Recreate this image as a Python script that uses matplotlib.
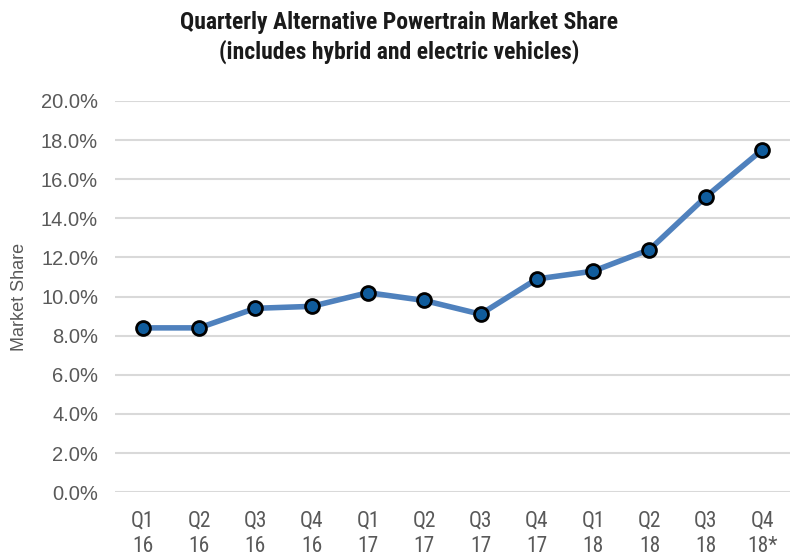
import matplotlib.pyplot as plt
from matplotlib.ticker import FuncFormatter

# Quarterly alternative powertrain share, in percent
quarters = ["Q1\n16", "Q2\n16", "Q3\n16", "Q4\n16",
            "Q1\n17", "Q2\n17", "Q3\n17", "Q4\n17",
            "Q1\n18", "Q2\n18", "Q3\n18", "Q4\n18*"]
share = [8.4, 8.4, 9.4, 9.5, 10.2, 9.8, 9.1, 10.9, 11.3, 12.4, 15.1, 17.5]
y_ticks = [0, 2, 4, 6, 8, 10, 12, 14, 16, 18, 20]

cond = ['Roboto Condensed', 'DejaVu Sans']
plain = ['Liberation Sans', 'DejaVu Sans']
plt.rcParams['font.family'] = cond

fig = plt.figure(figsize=(7.91, 5.58), dpi=100)
ax = fig.add_axes([0.145, 0.118, 0.854, 0.701])

x = list(range(len(share)))
ax.plot(x, share, color='#4F81BD', linewidth=4, zorder=3,
        marker='o', markersize=10, markerfacecolor='#105C9C',
        markeredgecolor='black', markeredgewidth=2)

ax.set_xlim(-0.5, len(share) - 0.5)
ax.set_ylim(0, 20)
ax.set_yticks(y_ticks)
ax.yaxis.set_major_formatter(FuncFormatter(lambda v, p: f"{v:.1f}%"))
ax.set_xticks(x)
ax.set_xticklabels(quarters)

ax.grid(axis='y', color='#D9D9D9', linewidth=1.5)
ax.set_axisbelow(True)
for s in ax.spines.values():
    s.set_visible(False)
ax.tick_params(length=0, labelcolor='#595959')
ax.tick_params(axis='y', pad=12, labelsize=14.5)
ax.tick_params(axis='x', pad=13, labelsize=15.5)
for t in ax.get_yticklabels():
    t.set_family(plain)
for t in ax.get_xticklabels():
    t.set_linespacing(1.3)

ax.set_ylabel("Market Share", fontsize=13, color='#595959', labelpad=9, family=plain)
fig.text(0.505, 0.98, "Quarterly Alternative Powertrain Market Share\n(includes hybrid and electric vehicles)",
         ha='center', va='top', fontsize=17, fontweight='semibold', color='#1a1a1a',
         linespacing=1.3)

fig.savefig("out.png", dpi=100)
